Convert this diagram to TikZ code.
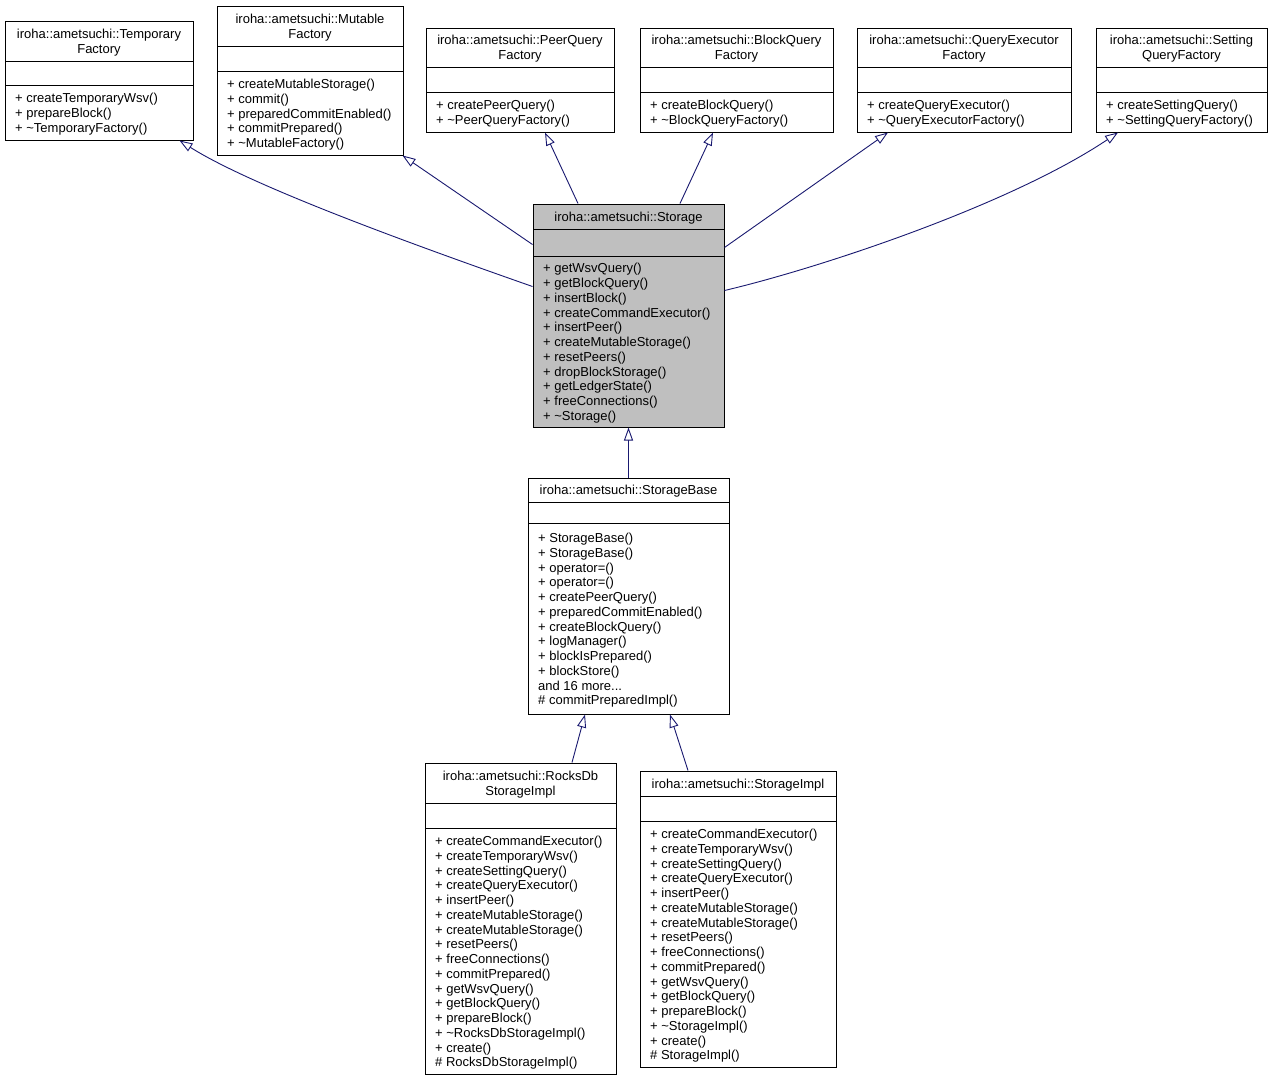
\documentclass[tikz,border=0pt]{standalone}
\usepackage{fontspec}
\setmainfont{Liberation Sans}
\usetikzlibrary{arrows.meta}
\definecolor{edgeblue}{HTML}{191970}
\definecolor{greyfill}{HTML}{BFBFBF}
\tikzset{
 classbox/.style={draw=black, line width=1pt, inner sep=0pt, rectangle},
 txt/.style={inner sep=0pt, font=\fontsize{13}{14.75}\selectfont},
 inh/.style={draw=edgeblue, line width=0.9pt, {Triangle[open,length=13pt,width=9pt,fill=white]}-},
}
\newcommand\umlcls[9]{%
 \node[classbox, fill=#8, minimum width=#4pt-#2pt, minimum height=#5pt-#3pt] (#1) at ({(#2+#4)/2},{(#3+#5)/2}) {};
 \draw[line width=1pt] (#2,#6) -- (#4,#6) (#2,#7) -- (#4,#7);
 \node[txt, align=center] (#1-title) at ({(#2+#4)/2},{(#3+#6)/2+1.5}) {#9};
}
\newcommand\umlmem[5]{%
 \node[txt, align=left, anchor=west] (#1-mem) at ({#2+10},{(#3+#4)/2+1.8}) {#5};
}
\newcommand\tl{\textasciitilde}
\begin{document}
\begin{tikzpicture}[x=1pt,y=-1pt]
\useasboundingbox[fill=white] (0,0) rectangle (1271,1080);

\umlcls{tempf}{5}{21}{193}{140}{61}{85}{white}{iroha::ametsuchi::Temporary\\Factory}
\umlmem{tempf}{5}{85}{140}{+ createTemporaryWsv()\\+ prepareBlock()\\+ \tl TemporaryFactory()}

\umlcls{mutf}{217}{6}{403}{155}{46}{71}{white}{iroha::ametsuchi::Mutable\\Factory}
\umlmem{mutf}{217}{71}{155}{+ createMutableStorage()\\+ commit()\\+ preparedCommitEnabled()\\+ commitPrepared()\\+ \tl MutableFactory()}

\umlcls{peerf}{426}{28}{614}{132}{67}{92}{white}{iroha::ametsuchi::PeerQuery\\Factory}
\umlmem{peerf}{426}{92}{132}{+ createPeerQuery()\\+ \tl PeerQueryFactory()}

\umlcls{blockf}{640}{28}{833}{132}{67}{92}{white}{iroha::ametsuchi::BlockQuery\\Factory}
\umlmem{blockf}{640}{92}{132}{+ createBlockQuery()\\+ \tl BlockQueryFactory()}

\umlcls{qexf}{857}{28}{1071}{132}{67}{92}{white}{iroha::ametsuchi::QueryExecutor\\Factory}
\umlmem{qexf}{857}{92}{132}{+ createQueryExecutor()\\+ \tl QueryExecutorFactory()}

\umlcls{setf}{1096}{28}{1267}{132}{67}{92}{white}{iroha::ametsuchi::Setting\\QueryFactory}
\umlmem{setf}{1096}{92}{132}{+ createSettingQuery()\\+ \tl SettingQueryFactory()}

\umlcls{storage}{533}{204}{724}{427}{229}{256}{greyfill}{iroha::ametsuchi::Storage}
\umlmem{storage}{533}{256}{427}{+ getWsvQuery()\\+ getBlockQuery()\\+ insertBlock()\\+ createCommandExecutor()\\+ insertPeer()\\+ createMutableStorage()\\+ resetPeers()\\+ dropBlockStorage()\\+ getLedgerState()\\+ freeConnections()\\+ \tl Storage()}

\umlcls{base}{528}{478}{729}{714}{502}{523}{white}{iroha::ametsuchi::StorageBase}
\umlmem{base}{528}{523}{714}{+ StorageBase()\\+ StorageBase()\\+ operator=()\\+ operator=()\\+ createPeerQuery()\\+ preparedCommitEnabled()\\+ createBlockQuery()\\+ logManager()\\+ blockIsPrepared()\\+ blockStore()\\and 16 more...\\\# commitPreparedImpl()}

\umlcls{rocks}{425}{763}{616}{1074}{803}{828}{white}{iroha::ametsuchi::RocksDb\\StorageImpl}
\umlmem{rocks}{425}{828}{1074}{+ createCommandExecutor()\\+ createTemporaryWsv()\\+ createSettingQuery()\\+ createQueryExecutor()\\+ insertPeer()\\+ createMutableStorage()\\+ createMutableStorage()\\+ resetPeers()\\+ freeConnections()\\+ commitPrepared()\\+ getWsvQuery()\\+ getBlockQuery()\\+ prepareBlock()\\+ \tl RocksDbStorageImpl()\\+ create()\\\# RocksDbStorageImpl()}

\umlcls{impl}{640}{771}{836}{1067}{796}{821}{white}{iroha::ametsuchi::StorageImpl}
\umlmem{impl}{640}{821}{1067}{+ createCommandExecutor()\\+ createTemporaryWsv()\\+ createSettingQuery()\\+ createQueryExecutor()\\+ insertPeer()\\+ createMutableStorage()\\+ createMutableStorage()\\+ resetPeers()\\+ freeConnections()\\+ commitPrepared()\\+ getWsvQuery()\\+ getBlockQuery()\\+ prepareBlock()\\+ \tl StorageImpl()\\+ create()\\\# StorageImpl()}

% inheritance edges
\draw[inh] ([xshift=-14pt]tempf.south east) .. controls (250,185) and (400,240) .. ([yshift=-83pt]storage.north west);
\draw[inh] ([xshift=-1pt]mutf.south east) -- ([yshift=-41pt]storage.north west);
\draw[inh] ([xshift=25pt]peerf.south) -- ([xshift=-50.5pt]storage.north);
\draw[inh] ([xshift=-23.5pt]blockf.south) -- ([xshift=51.5pt]storage.north);
\draw[inh] ([xshift=-76pt]qexf.south) -- ([yshift=-44pt]storage.north east);
\draw[inh] ([xshift=-63.5pt]setf.south) .. controls (1010,205) and (820,268) .. ([yshift=-87pt]storage.north east);
\draw[inh] (storage.south) -- (base.north);
\draw[inh] ([xshift=-43.5pt]base.south) -- ([xshift=51.5pt]rocks.north);
\draw[inh] ([xshift=41.5pt]base.south) -- ([xshift=-50pt]impl.north);
\end{tikzpicture}
\end{document}
